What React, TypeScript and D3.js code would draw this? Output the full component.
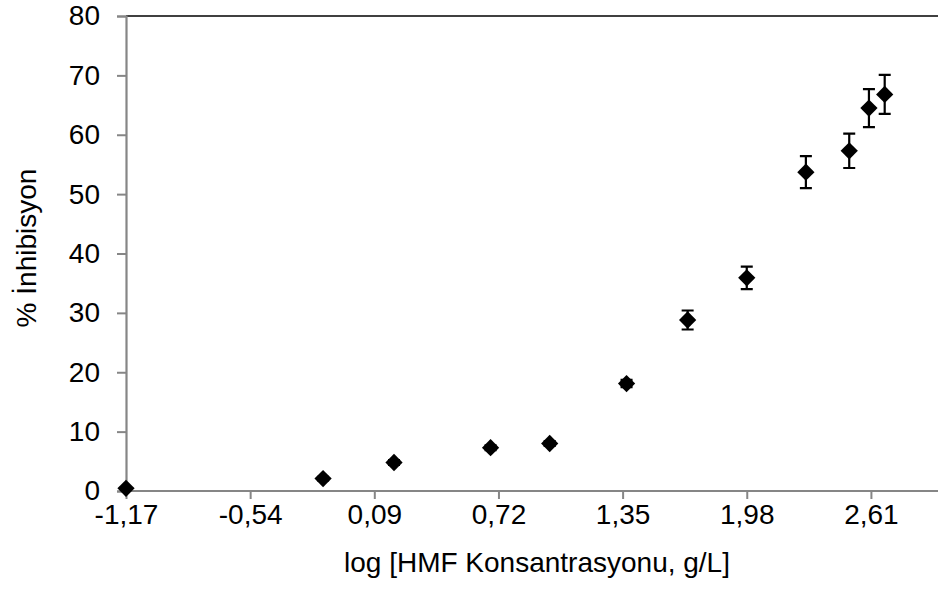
import { useEffect, useRef } from "react";
import * as d3 from "d3";

const logConc = [-1.17, -0.17, 0.19, 0.68, 0.98, 1.37, 1.68, 1.98, 2.28, 2.5, 2.6, 2.68];
const inhibition = [0.45, 2.1, 4.8, 7.3, 8.0, 18.1, 28.8, 35.9, 53.7, 57.3, 64.5, 66.8];
const errors = [0.2, 0.3, 0.4, 0.4, 0.4, 0.6, 1.6, 1.9, 2.7, 2.9, 3.2, 3.3];
const xTicks = [-1.17, -0.54, 0.09, 0.72, 1.35, 1.98, 2.61];
const yTicks = [0, 10, 20, 30, 40, 50, 60, 70, 80];

const width = 938;
const height = 590;
const margin = { top: 16, right: 0, bottom: 99, left: 126 };
const font = "'Liberation Sans', Arial, sans-serif";
const fontSize = 28;

const App = () => {
  const ref = useRef<SVGSVGElement>(null);

  useEffect(() => {
    const svg = d3.select(ref.current);
    svg.selectAll("*").remove();

    const x = d3.scaleLinear().domain([-1.17, 2.92]).range([margin.left, 932]);
    const y = d3.scaleLinear().domain([0, 80]).range([height - margin.bottom, margin.top]);
    const fmt = (v: number) => v.toFixed(2).replace(".", ",");

    // top border of plot area
    svg.append("line")
      .attr("x1", margin.left)
      .attr("x2", width)
      .attr("y1", y(80))
      .attr("y2", y(80))
      .attr("stroke", "#000")
      .attr("stroke-width", 1.5);

    // y axis
    const yAxis = svg.append("g")
      .attr("transform", `translate(${margin.left},0)`)
      .call(d3.axisLeft(y).tickValues(yTicks).tickSize(9).tickPadding(17).tickFormat((d) => String(d)));
    yAxis.select(".domain").attr("stroke", "#868686").attr("stroke-width", 2.2);
    yAxis.selectAll(".tick line").attr("stroke", "#868686").attr("stroke-width", 2);
    yAxis.selectAll(".tick text")
      .attr("fill", "#000")
      .style("font-family", font)
      .style("font-size", fontSize + "px");

    // x axis
    const xAxis = svg.append("g")
      .attr("transform", `translate(0,${y(0)})`)
      .call(d3.axisBottom(x).tickValues(xTicks).tickSize(8).tickPadding(5).tickFormat((d) => fmt(d as number)));
    xAxis.select(".domain")
      .attr("d", `M${margin.left},0H${width}`)
      .attr("stroke", "#868686")
      .attr("stroke-width", 2.2);
    xAxis.selectAll(".tick line").attr("stroke", "#868686").attr("stroke-width", 2);
    xAxis.selectAll(".tick text")
      .attr("fill", "#000")
      .style("font-family", font)
      .style("font-size", fontSize + "px");

    const data = logConc.map((v, i) => ({ x: v, y: inhibition[i], e: errors[i] }));

    // error bars
    const eb = svg.append("g").attr("stroke", "#000").attr("stroke-width", 2.2);
    eb.selectAll(".err")
      .data(data)
      .enter()
      .append("path")
      .attr("fill", "none")
      .attr("d", (d) => {
        const cx = x(d.x), y1 = y(d.y + d.e), y2 = y(d.y - d.e);
        return `M${cx},${y1}V${y2}M${cx - 6},${y1}H${cx + 6}M${cx - 6},${y2}H${cx + 6}`;
      });

    // markers
    const diamond = d3.symbol().type(d3.symbolDiamond2).size(190);
    svg.selectAll(".pt")
      .data(data)
      .enter()
      .append("path")
      .attr("d", diamond)
      .attr("transform", (d) => `translate(${x(d.x)},${y(d.y)})`)
      .attr("fill", "#000");

    // titles
    svg.append("text")
      .attr("x", 537)
      .attr("y", 572)
      .attr("text-anchor", "middle")
      .style("font-family", font)
      .style("font-size", fontSize + "px")
      .text("log [HMF Konsantrasyonu, g/L]");

    svg.append("text")
      .attr("transform", "translate(36,248) rotate(-90)")
      .attr("text-anchor", "middle")
      .style("font-family", font)
      .style("font-size", fontSize + "px")
      .text("% İnhibisyon");
  }, []);

  return (
    <svg
      ref={ref}
      width={width}
      height={height}
      style={{ position: "absolute", left: 0, top: 0, background: "#fff" }}
    />
  );
};

export default App;
